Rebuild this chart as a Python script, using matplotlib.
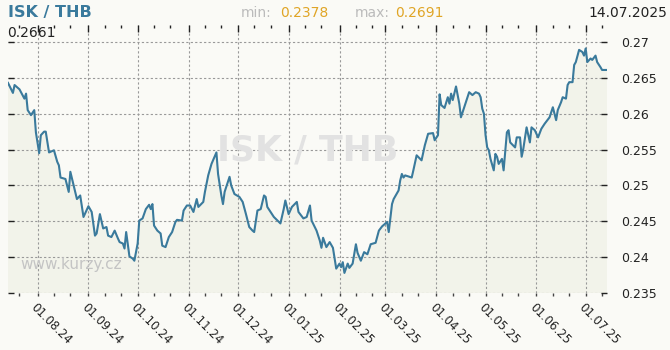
import matplotlib
matplotlib.use("Agg")
import matplotlib.pyplot as plt
import matplotlib.dates as mdates
import numpy as np
import pandas as pd

# kurz ISK/THB, posun ve dnech od 14.07.2024
start = pd.Timestamp("2024-07-14")
end = pd.Timestamp("2025-07-14")
days = [0, 3, 4, 7, 10, 11, 12, 14, 16, 17,
        19, 20, 22, 23, 25, 27, 28, 30, 31, 32,
        35, 37, 38, 40, 42, 44, 46, 49, 51, 53,
        54, 56, 58, 60, 61, 63, 65, 67, 68, 70,
        71, 72, 74, 76, 77, 79, 80, 82, 84, 86,
        87, 88, 89, 91, 93, 94, 96, 98, 100, 102,
        103, 106, 107, 109, 111, 113, 115, 116, 119, 120,
        122, 124, 127, 128, 130, 131, 132, 135, 136, 138,
        141, 143, 145, 147, 149, 150, 152, 154, 156, 157,
        158, 162, 166, 168, 169, 171, 173, 176, 177, 180,
        182, 184, 185, 188, 190, 191, 192, 194, 196, 198,
        200, 202, 203, 204, 205, 207, 208, 210, 212, 213,
        215, 217, 219, 221, 224, 226, 228, 231, 232, 234,
        235, 238, 239, 240, 241, 242, 246, 247, 249, 252,
        254, 256, 259, 260, 262, 263, 264, 266, 268, 269,
        270, 271, 273, 275, 276, 278, 281, 283, 285, 287,
        288, 289, 290, 291, 292, 293, 294, 296, 297, 298,
        299, 301, 302, 304, 305, 306, 309, 310, 312, 313,
        314, 316, 318, 319, 321, 323, 325, 327, 330, 332,
        334, 335, 337, 338, 340, 341, 342, 344, 345, 346,
        348, 350, 351, 352, 353, 355, 356, 358, 359, 361,
        362, 365]
rates = [0.2643, 0.2629, 0.2640, 0.2634, 0.2621, 0.2628, 0.2605, 0.2598, 0.2605, 0.2574,
         0.2545, 0.2570, 0.2575, 0.2575, 0.2546, 0.2548, 0.2549, 0.2533, 0.2528, 0.2511,
         0.2509, 0.2491, 0.2519, 0.2500, 0.2481, 0.2486, 0.2456, 0.2471, 0.2463, 0.2430,
         0.2433, 0.2460, 0.2440, 0.2442, 0.2430, 0.2428, 0.2437, 0.2426, 0.2421, 0.2419,
         0.2412, 0.2435, 0.2401, 0.2398, 0.2395, 0.2419, 0.2451, 0.2454, 0.2467, 0.2473,
         0.2467, 0.2474, 0.2444, 0.2437, 0.2433, 0.2416, 0.2414, 0.2428, 0.2435, 0.2449,
         0.2452, 0.2451, 0.2465, 0.2472, 0.2472, 0.2463, 0.2481, 0.2470, 0.2477, 0.2491,
         0.2514, 0.2530, 0.2546, 0.2516, 0.2486, 0.2474, 0.2491, 0.2512, 0.2500, 0.2488,
         0.2484, 0.2477, 0.2460, 0.2442, 0.2437, 0.2435, 0.2465, 0.2467, 0.2486, 0.2484,
         0.2470, 0.2456, 0.2447, 0.2467, 0.2479, 0.2460, 0.2470, 0.2477, 0.2463, 0.2454,
         0.2456, 0.2472, 0.2451, 0.2437, 0.2423, 0.2413, 0.2427, 0.2414, 0.2421, 0.2413,
         0.2384, 0.2391, 0.2386, 0.2393, 0.2378, 0.2391, 0.2385, 0.2391, 0.2418, 0.2406,
         0.2395, 0.2407, 0.2404, 0.2418, 0.2420, 0.2437, 0.2443, 0.2449, 0.2435, 0.2474,
         0.2481, 0.2493, 0.2507, 0.2516, 0.2511, 0.2514, 0.2511, 0.2521, 0.2542, 0.2535,
         0.2556, 0.2572, 0.2573, 0.2563, 0.2570, 0.2627, 0.2612, 0.2608, 0.2623, 0.2614,
         0.2628, 0.2619, 0.2638, 0.2614, 0.2595, 0.2609, 0.2630, 0.2626, 0.2630, 0.2628,
         0.2623, 0.2607, 0.2600, 0.2570, 0.2553, 0.2549, 0.2537, 0.2521, 0.2544, 0.2540,
         0.2530, 0.2537, 0.2521, 0.2574, 0.2577, 0.2560, 0.2553, 0.2567, 0.2567, 0.2540,
         0.2551, 0.2581, 0.2560, 0.2581, 0.2577, 0.2567, 0.2579, 0.2586, 0.2595, 0.2609,
         0.2591, 0.2605, 0.2616, 0.2623, 0.2621, 0.2640, 0.2644, 0.2644, 0.2668, 0.2672,
         0.2689, 0.2686, 0.2681, 0.2691, 0.2672, 0.2677, 0.2675, 0.2681, 0.2672, 0.2665,
         0.2661, 0.2661]
yticks = [0.235, 0.24, 0.245, 0.25, 0.255, 0.26, 0.265, 0.27]

dates = start + pd.to_timedelta(days, unit="D")
rates = np.array(rates)

bg = "#fafaf6"
line_col = "#3a7a9c"

fig = plt.figure(figsize=(6.7, 3.5), dpi=100, facecolor=bg)
ax = fig.add_axes([8 / 670, 57 / 350, 599 / 670, 268 / 350], facecolor=bg)

ax.fill_between(dates, rates, 0.2, color="#f2f3ea", zorder=1)
ax.plot(dates, rates, color=line_col, lw=1.5, zorder=3)

ax.set_xlim(start, end)
ax.set_ylim(0.235, 0.27237)

for s in ax.spines.values():
    s.set_visible(False)

ax.set_yticks(yticks)
ax.set_yticklabels(["%g" % t for t in yticks])
ax.yaxis.tick_right()
ax.tick_params(axis="y", which="major", direction="in", length=4, width=1,
               color="#222222", labelsize=9, pad=10, left=True, right=True,
               labelleft=False, labelright=True, labelcolor="#222222")

ax.xaxis.set_major_locator(mdates.MonthLocator(bymonthday=1))
ax.xaxis.set_minor_locator(mdates.DayLocator(bymonthday=[11, 21]))
ax.xaxis.set_major_formatter(mdates.DateFormatter("%d.%m.%y"))
ax.tick_params(axis="x", which="both", direction="out", length=2, width=1,
               color="#444444", top=False, bottom=True)
ax.tick_params(axis="x", which="major", labelsize=8.5, labelcolor="#222222", pad=4)
for lbl in ax.get_xticklabels():
    lbl.set_rotation(-45)
    lbl.set_ha("left")
    lbl.set_va("top")
    lbl.set_rotation_mode("anchor")

ax.grid(True, which="major", color="#999999", lw=0.8, linestyle=(0, (2, 2)), zorder=0)

# horni znacky
ax_top = ax.twiny()
ax_top.set_xlim(ax.get_xlim())
ax_top.xaxis.set_major_locator(mdates.MonthLocator(bymonthday=1))
ax_top.xaxis.set_minor_locator(mdates.DayLocator(bymonthday=[11, 21]))
ax_top.tick_params(axis="x", which="major", direction="in", length=5, width=1,
                   color="#222222", top=True, bottom=False, labeltop=False)
ax_top.tick_params(axis="x", which="minor", direction="in", length=2, width=1,
                   color="#222222", top=True, bottom=False)
for s in ax_top.spines.values():
    s.set_visible(False)

# vodoznaky
ax.text(0.5, 0.53, "ISK / THB", transform=ax.transAxes, ha="center", va="center",
        fontsize=25, fontweight="bold", color="#e2e2e2", zorder=2)
ax.text(0.02, 0.105, "www.kurzy.cz", transform=ax.transAxes, ha="left", va="center",
        fontsize=11, color="#c4c4c4", zorder=2)

# hlavicka
fig.text(8 / 670, 1 - 13 / 350, "ISK / THB", ha="left", va="center",
         fontsize=11.5, fontweight="bold", color=line_col)
fig.text(241 / 670, 1 - 13 / 350, "min:", ha="left", va="center",
         fontsize=10, color="#bbbbbb")
fig.text(280 / 670, 1 - 13 / 350, "%.4f" % rates.min(), ha="left", va="center",
         fontsize=10, color="#e0a526")
fig.text(355 / 670, 1 - 13 / 350, "max:", ha="left", va="center",
         fontsize=10, color="#bbbbbb")
fig.text(395 / 670, 1 - 13 / 350, "%.4f" % rates.max(), ha="left", va="center",
         fontsize=10, color="#e0a526")
fig.text(667 / 670, 1 - 13 / 350, end.strftime("%d.%m.%Y"), ha="right", va="center",
         fontsize=10, color="#222222")
fig.text(7 / 670, 1 - 33 / 350, "%.4f" % rates[-1], ha="left", va="center",
         fontsize=10, color="#222222")

fig.savefig("out.png", dpi=100, facecolor=bg)
